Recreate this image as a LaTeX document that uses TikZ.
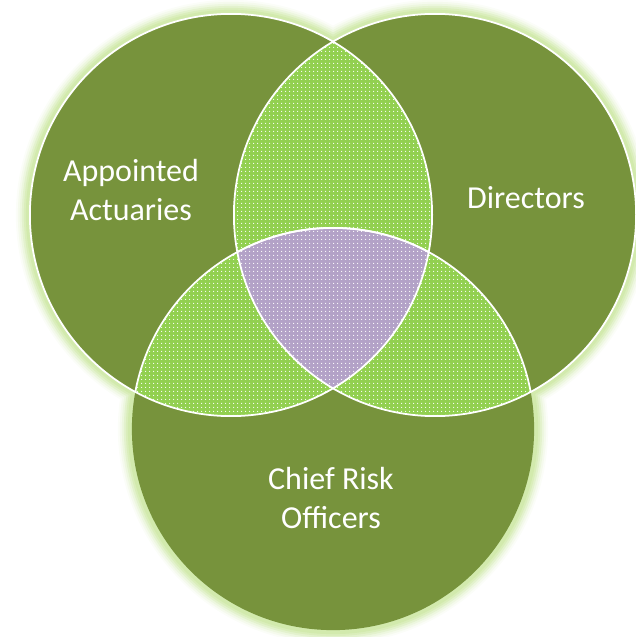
\documentclass[tikz,border=0pt]{standalone}
\usepackage{fontspec}
\setmainfont{Carlito}
\usetikzlibrary{patterns.meta}

\definecolor{olivedark}{HTML}{77933C}
\definecolor{lensgreen}{HTML}{92D050}
\definecolor{corepurple}{HTML}{B3A2C7}
\definecolor{glowgreen}{HTML}{CDE8A4}

\tikzdeclarepattern{
	name=finedots,
	type=uncolored,
	bounding box={(0pt,0pt) and (1.14pt,1.14pt)},
	tile size={(1.14pt,1.14pt)},
	code={\fill (0.57pt,0.57pt) circle[radius=0.2pt];}
}

\begin{document}
\begin{tikzpicture}[x=0.01cm,y=-0.01cm,
	lens/.style={fill=lensgreen,postaction={pattern=finedots,pattern color=white}},
	core/.style={fill=corepurple,postaction={pattern=finedots,pattern color=white}},
	rim/.style={draw=white,line width=0.5pt},
	setname/.style={text=white,align=center,font=\fontsize{9.1}{11.1}\selectfont}]

\def\r{2.01cm}

\useasboundingbox (0,0) rectangle (635,637);

\coordinate (actu) at (231,215);
\coordinate (dirc) at (435,215);
\coordinate (risk) at (333,429);

%
% weicher Schein um die Kreise
%
\foreach \g/\c in {2.15cm/8,2.13cm/20,2.11cm/35,2.09cm/55,2.07cm/75,2.05cm/90}{
	\foreach \p in {actu,dirc,risk}{
		\fill[glowgreen!\c!white] (\p) circle[radius=\g];
	}
}

%
% Kreise
%
\foreach \p in {actu,dirc,risk}{
	\fill[olivedark] (\p) circle[radius=\r];
}

%
% paarweise Schnitte
%
\begin{scope}
	\clip (actu) circle[radius=\r];
	\path[lens] (dirc) circle[radius=\r];
	\path[lens] (risk) circle[radius=\r];
\end{scope}
\begin{scope}
	\clip (dirc) circle[radius=\r];
	\path[lens] (risk) circle[radius=\r];
\end{scope}

%
% Schnitt aller drei
%
\begin{scope}
	\clip (actu) circle[radius=\r];
	\clip (dirc) circle[radius=\r];
	\path[core] (risk) circle[radius=\r];
\end{scope}

%
% weisse Raender (unterer Kreis nur innen)
%
\path[rim] (actu) circle[radius=\r];
\path[rim] (dirc) circle[radius=\r];
\begin{scope}
	\clip (actu) circle[radius=\r];
	\path[rim] (risk) circle[radius=\r];
\end{scope}
\begin{scope}
	\clip (dirc) circle[radius=\r];
	\path[rim] (risk) circle[radius=\r];
\end{scope}

\node[setname] (appointed) at (131,190) {Appointed\\Actuaries};
\node[setname] (directors) at (526,198) {Directors};
\node[setname] (chiefrisk) at (331,498) {Chief Risk\\Officers};

\end{tikzpicture}
\end{document}
